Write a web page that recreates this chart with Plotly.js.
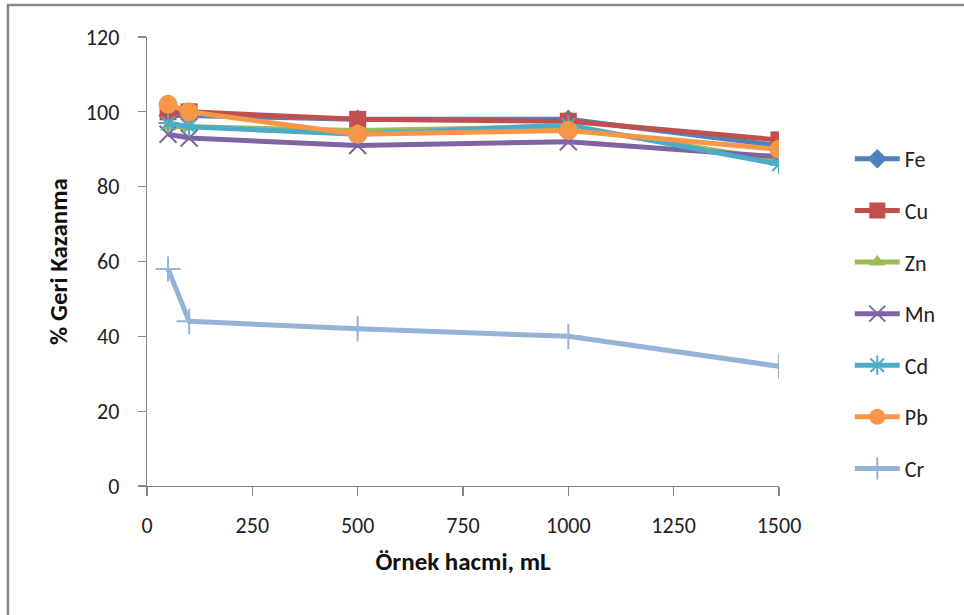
<!DOCTYPE html>
<html>
<head>
<meta charset="utf-8">
<script src="https://cdn.plot.ly/plotly-3.0.1.min.js"></script>
<style>html,body{margin:0;padding:0;background:#fff;}#chart{width:964px;height:615px;}</style>
</head>
<body>
<div id="chart"></div>
<script>
const volumes = [50, 100, 500, 1000, 1500];
const seriesNames = ["Fe", "Cu", "Zn", "Mn", "Cd", "Pb", "Cr"];
const Fe = [99, 99, 98, 98, 91];
const Cu = [100, 100, 98, 97.5, 92.5];
const Zn = [96, 96, 95, 96, 87];
const Mn = [94, 93, 91, 92, 88];
const Cd = [97, 96, 94, 96.5, 86];
const Pb = [102, 100, 94, 95, 90];
const Cr = [58, 44, 42, 40, 32];
const xTicks = [0, 250, 500, 750, 1000, 1250, 1500];
const yTicks = [0, 20, 40, 60, 80, 100, 120];

const values = [Fe, Cu, Zn, Mn, Cd, Pb, Cr];
const colors = ["#4F81BD", "#C0504D", "#9BBB59", "#8064A2", "#4BACC6", "#F79646", "#95B3D7"];
const symbols = ["diamond", "square", "triangle-up", "x-thin-open", "asterisk-open", "circle", "cross-thin-open"];
const sizes = [15, 17, 14, 17, 16, 19, 18];

const traces = seriesNames.map((n, i) => ({
  x: volumes, y: values[i], name: n, type: "scatter", mode: "lines+markers",
  legendgroup: n,
  line: {color: colors[i], width: 5},
  marker: {symbol: symbols[i], size: sizes[i], color: colors[i],
           line: {color: colors[i], width: (i === 3 || i === 4 || i === 6) ? 2 : 0}}
}));

const font = "Carlito, Lato, 'Open Sans', sans-serif";
const layout = {
  width: 964, height: 615,
  margin: {l: 147, r: 185, t: 37, b: 129, autoexpand: false},
  paper_bgcolor: "#fff", plot_bgcolor: "#fff",
  font: {family: font, size: 21, color: "#222"},
  showlegend: true,
  legend: {x: 1.112, xanchor: "left", y: 0.775, yanchor: "top", xref: "paper",
           font: {size: 22, color: "#222"}, tracegroupgap: 20, traceorder: "grouped",
           itemwidth: 45, bgcolor: "rgba(0,0,0,0)"},
  xaxis: {range: [0, 1500], tickvals: xTicks, ticktext: xTicks.map(String),
          showgrid: false, zeroline: false, showline: true, linecolor: "#868686", linewidth: 1.3,
          ticks: "outside", ticklen: 9, tickcolor: "#868686", tickwidth: 1.3,
          tickfont: {size: 22, color: "#222"}, ticklabelstandoff: 10,
          title: {text: "<b>Örnek hacmi, mL</b>", font: {size: 25, color: "#111"}, standoff: 14}},
  yaxis: {range: [0, 120], tickvals: yTicks, ticktext: yTicks.map(String),
          showgrid: false, zeroline: false, showline: true, linecolor: "#868686", linewidth: 1.3,
          ticks: "outside", ticklen: 8, tickcolor: "#868686", tickwidth: 1.3,
          tickfont: {size: 22, color: "#222"}, ticklabelstandoff: 14,
          title: {text: "<b>% Geri Kazanma</b>", font: {size: 25, color: "#111"}, standoff: 11}},
  shapes: [{type: "rect", xref: "paper", yref: "paper", x0: -0.22, x1: 1.5, y0: -1, y1: 1.0713,
            line: {color: "#868686", width: 2.5}, fillcolor: "rgba(0,0,0,0)", layer: "below"}]
};
Plotly.newPlot("chart", traces, layout, {displayModeBar: false, staticPlot: true});
</script>
</body>
</html>
